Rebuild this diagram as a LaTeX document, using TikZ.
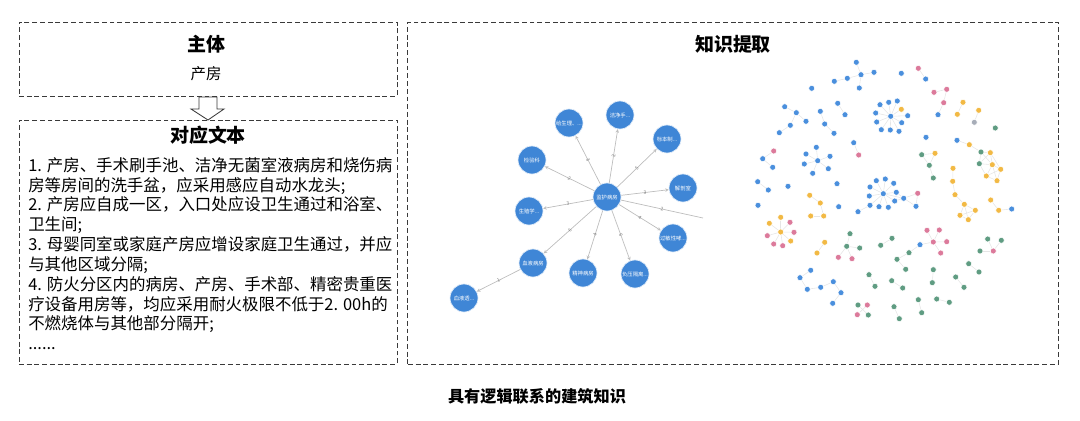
\documentclass[tikz,border=0pt]{standalone}
\usepackage{fontspec}
\setmainfont{Noto Sans CJK SC}
\usetikzlibrary{arrows.meta,backgrounds}
\definecolor{boxLine}{HTML}{3A3A3A}
\definecolor{kgBlue}{HTML}{3F86D6}
\definecolor{kgEdge}{HTML}{BDBDBD}
\definecolor{cb}{HTML}{4A8FDD}
\definecolor{cp}{HTML}{DC7A9B}
\definecolor{cy}{HTML}{F2B944}
\definecolor{cg}{HTML}{5F9C82}
\definecolor{cgr}{HTML}{A7ADB8}

\begin{document}
\begin{tikzpicture}[x=0.025cm,y=-0.025cm,
      pbox/.style={draw=boxLine, line width=0.6pt, dash pattern=on 3.5pt off 2pt},
      ttl/.style={font=\fontsize{13.5}{16}\selectfont\bfseries},
      kn/.style={circle, fill=kgBlue, draw=white!85!kgBlue, line width=0.5pt,
                 minimum size=0.7cm, inner sep=0pt, text=white,
                 font=\fontsize{3.8}{4}\selectfont},
      kl/.style={draw=kgEdge, line width=0.5pt, -{Stealth[open,length=2.5pt,width=2.5pt]}},
      elab/.style={midway, sloped, inner sep=0.5pt, text=gray, font=\fontsize{3.5}{4}\selectfont},
      dot/.style={circle, draw=white, line width=0.4pt, minimum size=0.15cm, inner sep=0pt},
      lnk/.style={draw=black!10, line width=0.4pt}]
    \useasboundingbox (0,0) rectangle (1080,421);

    \node[pbox, minimum width=9.45cm, minimum height=1.85cm] (zt) at (208,59) {};
    \node[pbox, minimum width=9.45cm, minimum height=6.1cm] (wb) at (208,242) {};
    \node[pbox, minimum width=16.25cm, minimum height=8.55cm] (zs) at (733,193) {};

    \node[ttl] (ztT) at (206,44) {主体};
    \node[font=\fontsize{11}{13}\selectfont] (ztS) at (206,74) {产房};
    \node[ttl] (wbT) at (208,135) {对应文本};
    \node[ttl] (zsT) at (733,44) {知识提取};
    \node[font=\fontsize{11.5}{14}\selectfont\bfseries] (cap) at (537,396) {具有逻辑联系的建筑知识};

    \draw[boxLine, line width=0.6pt, fill=white]
      (199,97) -- (217,97) -- (217,109) -- (224,109) -- (208,120) -- (191,109) -- (199,109) -- cycle;

    \node[anchor=north west, inner sep=0pt, align=left,
          font=\fontsize{11.7}{14.1}\selectfont] (txt) at (28,157)
      {1. 产房、手术刷手池、洁净无菌室液病房和烧伤病\\
       房等房间的洗手盆，应采用感应自动水龙头;\\
       2. 产房应自成一区，入口处应设卫生通过和浴室、\\
       卫生间;\\
       3. 母婴同室或家庭产房应增设家庭卫生通过，并应\\
       与其他区域分隔;\\
       4. 防火分区内的病房、产房、手术部、精密贵重医\\
       疗设备用房等，均应采用耐火极限不低于2. 00h的\\
       不燃烧体与其他部分隔开;\\
       ......};

    \node[kn] (jh) at (607,197) {监护病房};
    \node[kn] (sl) at (569,123) {给生理、...};
    \node[kn] (jj) at (620,115) {洁净手...};
    \node[kn] (bb) at (667,139) {标本制...};
    \node[kn] (jy) at (532,160) {检验科};
    \node[kn] (jp) at (683,188) {解剖室};
    \node[kn] (sz) at (529,211) {生殖学...};
    \node[kn] (gm) at (673,238) {过敏性哮...};
    \node[kn] (xy) at (533,263) {血液病房};
    \node[kn] (js) at (583,273) {精神病房};
    \node[kn] (fy) at (635,274) {负压隔离...};
    \node[kn] (xt) at (464,298) {血液透...};
    \coordinate (cut) at (703,218);
    \foreach \a/\b/\w in {jh/sl/3,jh/jj/2,jh/bb/5,jh/jy/2,jh/jp/3,jh/sz/3,
                          jh/gm/4,jh/xy/6,jh/js/4,jh/fy/6,xy/xt/1}
      {\draw[kl] (\a) -- node[elab] {\w} (\b);}
    \draw[draw=kgEdge, line width=0.5pt] (jh) -- node[elab] {2} (cut);

    \foreach \n/\x/\y/\c in {
        a0/861/74.7/cb, a1/856.3/62.3/cb, a2/874/72.3/cb, a3/847.3/78.3/cb, a4/834.3/81.3/cb, a5/859.3/88/cb,
        b0/811.7/88.3/cb,
        c0/784.7/106.7/cb, c1/796.3/112.7/cb, c2/806/121.3/cb, c3/790.3/125.3/cb, c4/779.3/132.7/cb,
        d0/820.3/111.3/cb, d1/824.7/124/cb, d2/834/133.3/cb,
        e0/837.7/103.3/cb, e1/845/114.7/cb,
        f0/853.7/142.7/cb, f1/858.7/155/cp,
        g0/773.7/151/cp, g1/762.7/158.7/cb, g2/772.7/167.3/cb,
        h0/817.7/160.7/cb, h1/816.3/147.3/cb, h2/806/154/cb, h3/830/156.3/cb, h4/804.3/164/cb, h5/828.3/168.7/cb, h6/812.7/173.3/cb,
        i0/757.7/181.7/cb, i1/768.3/190/cb,
        j0/788/186.3/cb, j1/837/183.7/cb, j2/758/205.3/cb, j3/838.7/206.7/cb, j4/901.3/73.3/cb, j5/926/137.3/cb, j6/995.3/128/cg,
        k0/890.7/116.3/cb, k1/880/104.7/cb, k2/888.7/102.3/cb, k3/897.3/101/cb, k4/901.3/109.3/cy, k5/907.7/115.7/cb,
        k6/901.7/122.7/cb, k7/899/131.3/cb, k8/890.3/130/cb, k9/881.3/129.7/cb, k10/876.7/122/cb, k11/875.7/113/cb,
        l0/918.3/68.3/cp, l1/925.7/79/cb,
        m0/934/92.3/cp, m1/946.7/89.3/cp, m2/943.7/102.7/cp, m3/938/114.7/cb,
        n0/963/102.3/cy, n1/957.3/114.3/cy,
        o0/978.7/110.3/cy, o1/974.3/122.3/cgr,
        q0/957/140.3/cb, q1/969.3/144.7/cy, q2/981/152/cg, q3/990.3/152.7/cy, q4/979.3/163.7/cg,
        q5/992.3/164.7/cy, q6/1000.7/169.3/cy, q7/986.3/176/cy, q8/997/180.7/cy,
        r0/921.7/154.7/cg, r1/935/153.3/cy, r2/929.3/165.3/cg, r3/933.3/178/cg,
        s0/953/168.3/cy, s1/952.7/181.3/cy, s2/955/194.7/cy, s3/964.3/204.3/cy, s4/975.3/210.3/cy, s5/960/215.3/cy, s6/968.3/219.7/cy,
        t0/990.7/200/cy, t1/998.7/210.3/cy, t2/1011.7/209/cb,
        u0/883.3/193.7/cb, u1/876.3/180.7/cb, u2/885.3/179/cb, u3/893.7/183.3/cb, u4/870/187/cb, u5/896.3/192.3/cb,
        u6/869.3/196/cb, u7/894.7/201/cb, u8/870/205.3/cb, u9/879/206.7/cb, u10/888.3/207.3/cb, u11/858/211.7/cb,
        u12/903.7/198.3/cb, u13/917.7/193.3/cp, u14/916/206.3/cb,
        v0/809.7/195.3/cy, v1/820.3/203/cy, v2/810.7/216/cy, v3/823.7/216/cy,
        w0/780.7/232/cy, w1/780.7/217.3/cy, w2/769.3/223.3/cy, w3/790/222.3/cp, w4/794/232.3/cp,
        w5/790.7/241/cy, w6/782.7/245.7/cp, w7/773.7/244/cp, w8/767.3/235.7/cp,
        x0/824.7/242.3/cy, x1/817/253/cy,
        y0/846.7/246.3/cg, y1/850/233.7/cg, y2/859.7/248/cg, y3/838.3/257.3/cp, y4/852/258.7/cp,
        z0/880.7/245.3/cg, z1/892/238.3/cg,
        A0/933.3/242/cp, A1/927/230.3/cp, A2/939.3/230/cp, A3/946.7/241.7/cp, A4/940.7/253/cp,
        A5/920/244.7/cb, A6/909/252.7/cg, A7/897/259.3/cg, A8/905.7/269.3/cg,
        B0/993.3/251/cp, B1/987.7/239/cg, B2/1001.3/240.3/cg, B3/980/251/cg,
        C0/968.7/263.7/cg, C1/979/272/cg, D0/933.3/269.7/cg, D1/932.3/282.7/cg,
        E0/955.7/277/cg, E1/964/287.3/cg, F0/891.7/280.7/cg, F1/902.7/288/cg,
        G0/869/274.7/cg, G1/875/286.3/cg, H0/918.3/299.7/cg, H1/921.7/312.7/cg,
        I0/936.7/299/cg, I1/949.3/302.3/cg, J0/894/306.7/cg, J1/899.3/318.7/cg,
        K0/858/305/cg, K1/867.3/305/cp, K2/857.3/314.7/cp, K3/868.3/315/cg,
        L0/810.7/270.3/cb, L1/800/277.7/cb, L2/807.3/289.3/cb, L3/820.7/287.3/cb, L4/833.3/281.7/cb, L5/841/292.7/cb, L6/832.7/303.3/cb}
      {\node[dot, fill=\c] (\n) at (\x,\y) {};}

    \begin{scope}[on background layer]
      \foreach \a/\b in {a0/a1,a0/a2,a0/a3,a0/a5,a3/a4,
          c0/c1,c1/c2,c1/c3,c3/c4,d0/d1,d1/d2,e0/e1,f0/f1,g0/g1,g1/g2,
          h0/h1,h0/h2,h0/h3,h0/h4,h0/h5,h0/h6,i0/i1,
          k0/k1,k0/k2,k0/k3,k0/k4,k0/k5,k0/k6,k0/k7,k0/k8,k0/k9,k0/k10,k0/k11,
          l0/l1,m0/m1,m1/m2,m2/m3,n0/n1,o0/o1,
          q0/q1,q1/q2,q2/q3,q2/q4,q3/q4,q2/q5,q3/q5,q4/q5,q5/q6,q5/q7,q5/q8,q6/q7,q6/q8,q7/q8,q4/q7,q3/q6,
          r0/r1,r0/r2,r1/r2,r2/r3,
          s0/s1,s1/s2,s2/s3,s3/s4,s3/s5,s3/s6,s4/s6,s5/s6,s4/s5,
          t0/t1,t1/t2,
          u0/u1,u0/u2,u0/u3,u0/u4,u0/u5,u0/u6,u0/u7,u0/u8,u0/u9,u0/u10,u8/u11,
          u0/u12,u5/u12,u7/u12,u12/u13,u12/u14,u13/u14,
          v0/v1,v1/v3,v2/v3,
          w0/w1,w0/w2,w0/w3,w0/w4,w0/w5,w0/w6,w0/w7,w0/w8,
          x0/x1,y0/y1,y0/y2,y0/y3,y0/y4,z0/z1,
          A0/A1,A0/A2,A0/A3,A0/A4,A0/A5,A5/A6,A6/A7,A7/A8,
          B0/B1,B0/B2,B0/B3,
          C0/C1,D0/D1,E0/E1,F0/F1,G0/G1,H0/H1,I0/I1,J0/J1,K0/K3,K1/K2,
          L0/L1,L1/L2,L2/L3,L3/L4,L4/L5,L5/L6}
        {\draw[lnk] (\a) -- (\b);}
    \end{scope}
  \end{tikzpicture}
\end{document}
